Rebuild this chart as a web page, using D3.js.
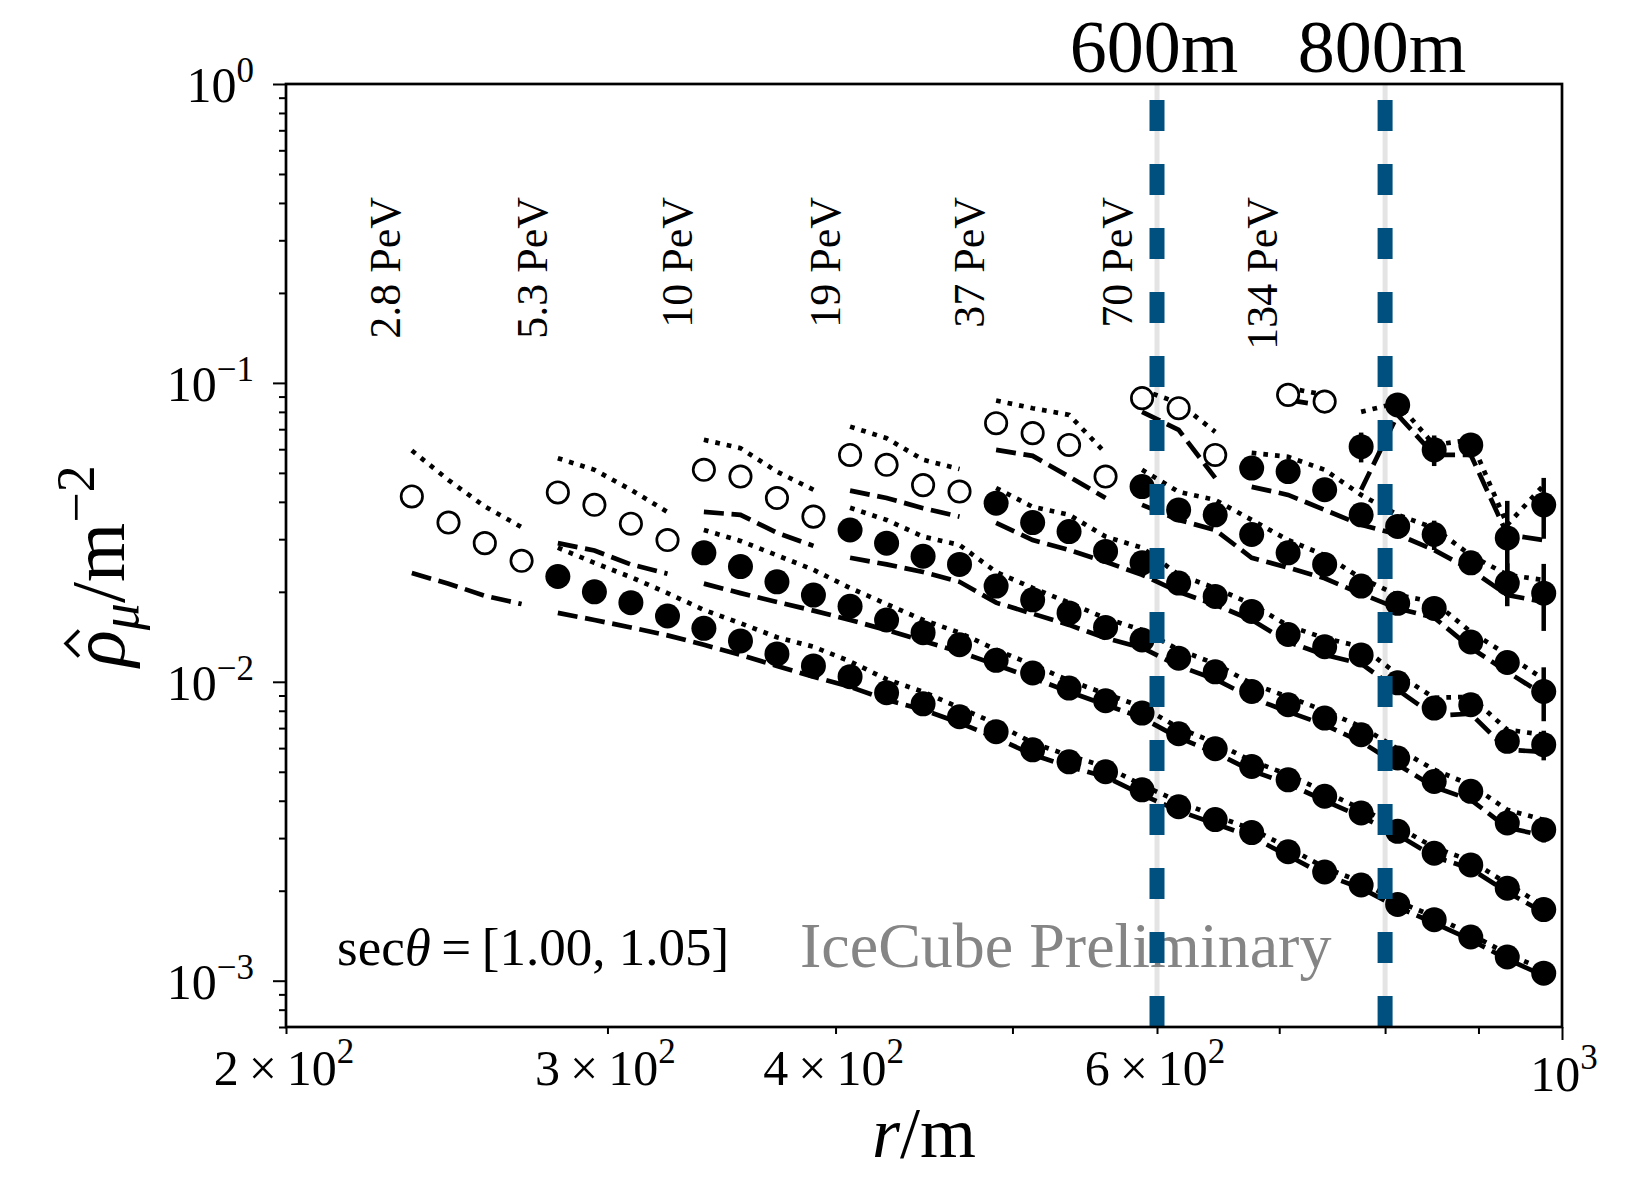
<!DOCTYPE html>
<meta charset="utf-8">
<style>
body { margin: 0; background: #fff; }
text { font-family: "Liberation Serif", "Times New Roman", serif; fill: #000; }
</style>
<body>
<script src="https://d3js.org/d3.v7.min.js"></script>
<script>
// radial bins (m), one per column of points
var radius = [234.4, 245.5, 257.0, 269.2, 281.8, 295.1, 309.0, 323.6, 338.8, 354.8, 371.5, 389.0,
  407.4, 426.6, 446.7, 467.7, 489.8, 512.9, 537.0, 562.3, 588.8, 616.6, 645.7, 676.1,
  707.9, 741.3, 776.2, 812.8, 851.1, 891.3, 933.3, 977.2];

var energies = ["2.8 PeV", "5.3 PeV", "10 PeV", "19 PeV", "37 PeV", "70 PeV", "134 PeV"];
var labelR = [227, 273, 328, 395, 474, 571, 686];
var firstBin = [0, 4, 8, 12, 16, 20, 24];

// open markers (and the two model curves over the same bins)
var openPts = [
  [0.0417, 0.0341, 0.0291, 0.0254],
  [0.0430, 0.0391, 0.0338, 0.0298],
  [0.0512, 0.0486, 0.0412, 0.0357],
  [0.0574, 0.0532, 0.0455, 0.0433],
  [0.0733, 0.0679, 0.0620, 0.0486],
  [0.0889, 0.0823, 0.0574],
  [0.0912, 0.0866]
];
var openDot = [
  [0.0594, 0.0473, 0.0386, 0.0329],
  [0.0560, 0.0512, 0.0439, 0.0370],
  [0.0645, 0.0605, 0.0505, 0.0439],
  [0.0714, 0.0653, 0.0553, 0.0515],
  [0.0873, 0.0823, 0.0782, 0.0582],
  [0.0947, 0.0857, 0.0686],
  [0.0962, 0.0912]
];
var openDash = [
  [0.0231, 0.0213, 0.0194, 0.0182],
  [0.0291, 0.0275, 0.0247, 0.0230],
  [0.0370, 0.0362, 0.0315, 0.0285],
  [0.0436, 0.0412, 0.0381, 0.0357],
  [0.0597, 0.0570, 0.0486, 0.0412],
  [0.0800, 0.0696, 0.0481],
  [0.0877, 0.0838]
];

// filled markers, continuing right after the open ones up to the last bin
var fillPts = [
  [0.0225, 0.0200, 0.0184, 0.0166, 0.0151, 0.0137, 0.0124, 0.0113, 0.0104, 0.00919, 0.00844, 0.00764, 0.00681, 0.00592,
   0.00540, 0.00500, 0.00435, 0.00382, 0.00346, 0.00313, 0.00270, 0.00231, 0.00209, 0.00180, 0.00160, 0.00140, 0.00120, 0.00106],
  [0.0270, 0.0243, 0.0216, 0.0195, 0.0179, 0.0161, 0.0146, 0.0133, 0.0118, 0.0107, 0.00953, 0.00864, 0.00786, 0.00670,
   0.00597, 0.00521, 0.00470, 0.00414, 0.00364, 0.00316, 0.00267, 0.00244, 0.00204, 0.00173],
  [0.0322, 0.0291, 0.0263, 0.0247, 0.0209, 0.0188, 0.0170, 0.0152, 0.0138, 0.0120, 0.0108, 0.00928, 0.00838, 0.00756,
   0.00665, 0.00556, 0.00464, 0.00430, 0.00337, 0.00320],
  [0.0396, 0.0341, 0.0318, 0.0273, 0.0250, 0.0214, 0.0193, 0.0172, 0.0144, 0.0131, 0.0123, 0.00992, 0.00817, 0.00838,
   0.00632, 0.00616],
  [0.0450, 0.0376, 0.0362, 0.0311, 0.0270, 0.0247, 0.0209, 0.0183, 0.0176, 0.0136, 0.0116, 0.00928],
  [0.0519, 0.0505, 0.0439, 0.0362, 0.0331, 0.0311, 0.0250, 0.0214, 0.0198],
  [0.0612, 0.0844, 0.0597, 0.0620, 0.0303, 0.0391]
];
var fillErr = [
  [0, 0, 0, 0, 0, 0, 0, 0, 0, 0, 0, 0, 0, 0, 0, 0, 0, 0, 0, 0, 0, 0, 0, 0, 0, 0, 0, 0],
  [0, 0, 0, 0, 0, 0, 0, 0, 0, 0, 0, 0, 0, 0, 0, 0, 0, 0, 0, 0, 0, 0, 0, 0],
  [0, 0, 0, 0, 0, 0, 0, 0, 0, 0, 0, 0, 0, 0, 0, 0, 0, 0, 0.0002, 0.0003],
  [0, 0, 0, 0, 0, 0, 0, 0, 0, 0, 0, 0, 0.0004, 0.0004, 0.0005, 0.0007],
  [0, 0, 0, 0, 0, 0, 0, 0, 0.0010, 0.0010, 0.0010, 0.0019],
  [0, 0, 0, 0.0020, 0.0015, 0.0035, 0.0020, 0.0035, 0.0050],
  [0.0070, 0.0030, 0.0070, 0.0030, 0.0100, 0.0090]
];
var fillDot = [
  [0.0281, 0.0250, 0.0224, 0.0198, 0.0174, 0.0157, 0.0141, 0.0131, 0.0117, 0.0102, 0.00926, 0.00819, 0.00724, 0.00625,
   0.00566, 0.00520, 0.00452, 0.00397, 0.00356, 0.00322, 0.00279, 0.00239, 0.00214, 0.00184, 0.00164, 0.00143, 0.00123, 0.00109],
  [0.0322, 0.0296, 0.0265, 0.0237, 0.0206, 0.0182, 0.0161, 0.0146, 0.0128, 0.0114, 0.0101, 0.00912, 0.00825, 0.00702,
   0.00625, 0.00544, 0.00489, 0.00429, 0.00376, 0.00327, 0.00279, 0.00252, 0.00211, 0.00178],
  [0.0382, 0.0348, 0.0306, 0.0287, 0.0233, 0.0206, 0.0184, 0.0163, 0.0149, 0.0128, 0.0115, 0.00985, 0.00891, 0.00800,
   0.00707, 0.00597, 0.00508, 0.00452, 0.00373, 0.00345],
  [0.0445, 0.0385, 0.0362, 0.0306, 0.0281, 0.0228, 0.0206, 0.0182, 0.0154, 0.0140, 0.0131, 0.0106, 0.00884, 0.00891,
   0.00691, 0.00665],
  [0.0512, 0.0432, 0.0406, 0.0348, 0.0298, 0.0265, 0.0222, 0.0195, 0.0185, 0.0147, 0.0123, 0.0102],
  [0.0583, 0.0566, 0.0512, 0.0422, 0.0362, 0.0327, 0.0265, 0.0228, 0.0219],
  [0.0800, 0.0857, 0.0620, 0.0645, 0.0335, 0.0455]
];
var fillDash = [
  [0.0170, 0.0161, 0.0152, 0.0143, 0.0133, 0.0123, 0.0113, 0.0104, 0.00962, 0.00871, 0.00806, 0.00729, 0.00650, 0.00570,
   0.00520, 0.00481, 0.00419, 0.00370, 0.00335, 0.00303, 0.00262, 0.00226, 0.00204, 0.00176, 0.00156, 0.00137, 0.00118, 0.00104],
  [0.0213, 0.0198, 0.0185, 0.0173, 0.0161, 0.0149, 0.0137, 0.0126, 0.0114, 0.0103, 0.00926, 0.00838, 0.00758, 0.00650,
   0.00579, 0.00504, 0.00456, 0.00400, 0.00354, 0.00308, 0.00260, 0.00237, 0.00198, 0.00169],
  [0.0260, 0.0247, 0.0233, 0.0216, 0.0184, 0.0169, 0.0155, 0.0140, 0.0130, 0.0113, 0.0102, 0.00884, 0.00794, 0.00718,
   0.00630, 0.00528, 0.00445, 0.00403, 0.00325, 0.00306],
  [0.0340, 0.0298, 0.0276, 0.0252, 0.0228, 0.0200, 0.0181, 0.0161, 0.0136, 0.0123, 0.0115, 0.00940, 0.00770, 0.00782,
   0.00592, 0.00583],
  [0.0391, 0.0348, 0.0322, 0.0260, 0.0241, 0.0222, 0.0197, 0.0176, 0.0164, 0.0130, 0.0108, 0.00905],
  [0.0449, 0.0422, 0.0376, 0.0335, 0.0311, 0.0276, 0.0237, 0.0195, 0.0185],
  [0.0439, 0.0782, 0.0574, 0.0574, 0.0311, 0.0298]
];

var depthLines = [600, 800];
var depthLabels = ["600m", "800m"];
var xLabelTicks = [200, 300, 400, 600];
var xLabelMant = ["2", "3", "4", "6"];
var xMajor = [1000];
var yMajor = [1, 0.1, 0.01, 0.001];
var yExp = ["0", "\u22121", "\u22122", "\u22123"];

var W = 1650, H = 1177;
var margin = {top: 84, right: 88, bottom: 150, left: 286};

var x = d3.scaleLog().domain([200, 1000]).range([margin.left, W - margin.right]);
var y = d3.scaleLog().domain([7e-4, 1]).range([H - margin.bottom, margin.top]);

var svg = d3.select("body").append("svg")
    .attr("width", W)
    .attr("height", H)
    .style("display", "block");

svg.append("rect").attr("width", W).attr("height", H).attr("fill", "#fff");

// light vertical guides behind everything
svg.selectAll(".guide")
    .data(depthLines)
  .enter().append("line")
    .attr("x1", function(d) { return x(d); })
    .attr("x2", function(d) { return x(d); })
    .attr("y1", y(7e-4))
    .attr("y2", y(1))
    .attr("stroke", "#e4e4e4")
    .attr("stroke-width", 5);

// annotations inside the axes
var sec = svg.append("text")
    .attr("x", 337)
    .attr("y", 965)
    .style("font-size", "53px");
sec.append("tspan").text("sec");
sec.append("tspan").style("font-style", "italic").text("\u03b8");
sec.append("tspan").text("\u2009=\u2009[1.00, 1.05]");

svg.append("text")
    .attr("x", 800)
    .attr("y", 967)
    .style("font-size", "64px")
    .style("fill", "#858585")
    .text("IceCube Preliminary");

function pts(vals, start) {
  return vals.map(function(v, i) { return {r: radius[start + i], v: v}; });
}

var line = d3.line()
    .x(function(d) { return x(d.r); })
    .y(function(d) { return y(d.v); });

var plot = svg.append("g");

energies.forEach(function(e, i) {
  var s0 = firstBin[i];
  var s1 = s0 + openPts[i].length;

  [[openDot[i], s0], [fillDot[i], s1]].forEach(function(p) {
    plot.append("path")
        .attr("d", line(pts(p[0], p[1])))
        .attr("fill", "none")
        .attr("stroke", "#000")
        .attr("stroke-width", 4.7)
        .attr("stroke-dasharray", "4.7 7");
  });
  [[openDash[i], s0], [fillDash[i], s1]].forEach(function(p) {
    plot.append("path")
        .attr("d", line(pts(p[0], p[1])))
        .attr("fill", "none")
        .attr("stroke", "#000")
        .attr("stroke-width", 4.7)
        .attr("stroke-dasharray", "20 7.7");
  });

  var filled = pts(fillPts[i], s1);
  filled.forEach(function(d, j) { d.e = fillErr[i][j]; });

  plot.selectAll(null)
      .data(filled.filter(function(d) { return d.e > 0; }))
    .enter().append("line")
      .attr("x1", function(d) { return x(d.r); })
      .attr("x2", function(d) { return x(d.r); })
      .attr("y1", function(d) { return y(d.v - d.e); })
      .attr("y2", function(d) { return y(d.v + d.e); })
      .attr("stroke", "#000")
      .attr("stroke-width", 4.5);

  plot.selectAll(null)
      .data(pts(openPts[i], s0))
    .enter().append("circle")
      .attr("cx", function(d) { return x(d.r); })
      .attr("cy", function(d) { return y(d.v); })
      .attr("r", 10.7)
      .attr("fill", "#fff")
      .attr("stroke", "#000")
      .attr("stroke-width", 2.7);

  plot.selectAll(null)
      .data(filled)
    .enter().append("circle")
      .attr("cx", function(d) { return x(d.r); })
      .attr("cy", function(d) { return y(d.v); })
      .attr("r", 12.5)
      .attr("fill", "#000");
});

// energy labels
svg.selectAll(".elab")
    .data(energies)
  .enter().append("text")
    .attr("transform", function(d, i) { return "translate(" + (x(labelR[i]) + 14) + ",197) rotate(-90)"; })
    .attr("text-anchor", "end")
    .style("font-size", "44px")
    .text(function(d) { return d; });

// depth markers
svg.selectAll(".depth")
    .data(depthLines)
  .enter().append("path")
    .attr("d", function(d) { return "M" + x(d) + "," + y(7e-4) + "V" + y(1); })
    .attr("stroke", "#00507f")
    .attr("stroke-width", 15)
    .attr("stroke-dasharray", "31 33");

svg.selectAll(".dlab")
    .data(depthLines)
  .enter().append("text")
    .attr("x", function(d) { return x(d) - 3; })
    .attr("y", 72)
    .attr("text-anchor", "middle")
    .style("font-size", "74px")
    .text(function(d, i) { return depthLabels[i]; });

// axes
var yMinor = y.ticks().filter(function(t) { return yMajor.indexOf(t) < 0; });
var xMinor = x.ticks().filter(function(t) { return xMajor.indexOf(t) < 0; });

function styleAxis(g) {
  g.select(".domain").remove();
  g.selectAll("line").attr("stroke", "#000").attr("stroke-width", 2);
}

svg.append("g")
    .attr("transform", "translate(" + margin.left + ",0)")
    .call(d3.axisLeft(y).tickValues(yMinor).tickSize(7).tickFormat(""))
    .call(styleAxis);
svg.append("g")
    .attr("transform", "translate(" + margin.left + ",0)")
    .call(d3.axisLeft(y).tickValues(yMajor).tickSize(13).tickFormat(""))
    .call(styleAxis);
svg.append("g")
    .attr("transform", "translate(0," + (H - margin.bottom) + ")")
    .call(d3.axisBottom(x).tickValues(xMinor).tickSize(7).tickFormat(""))
    .call(styleAxis);
svg.append("g")
    .attr("transform", "translate(0," + (H - margin.bottom) + ")")
    .call(d3.axisBottom(x).tickValues(xMajor).tickSize(13).tickFormat(""))
    .call(styleAxis);

svg.append("rect")
    .attr("x", margin.left)
    .attr("y", margin.top)
    .attr("width", W - margin.left - margin.right)
    .attr("height", H - margin.top - margin.bottom)
    .attr("fill", "none")
    .attr("stroke", "#000")
    .attr("stroke-width", 2.7);

// tick labels
yMajor.forEach(function(v, i) {
  var t = svg.append("text")
      .attr("x", 254)
      .attr("y", y(v) + 18)
      .attr("text-anchor", "end")
      .style("font-size", "50px");
  t.append("tspan").text("10");
  t.append("tspan").attr("dy", -20).style("font-size", "35px").text(yExp[i]);
});

xLabelTicks.forEach(function(v, i) {
  var t = svg.append("text")
      .attr("x", x(v) - 2)
      .attr("y", 1085)
      .attr("text-anchor", "middle")
      .style("font-size", "50px");
  t.append("tspan").text(xLabelMant[i] + "\u2009\u00d7\u200910");
  t.append("tspan").attr("dy", -22).style("font-size", "35px").text("2");
});
var t3 = svg.append("text")
    .attr("x", x(1000) + 2)
    .attr("y", 1091)
    .attr("text-anchor", "middle")
    .style("font-size", "50px");
t3.append("tspan").text("10");
t3.append("tspan").attr("dy", -22).style("font-size", "35px").text("3");

// axis titles
var xt = svg.append("text")
    .attr("x", (margin.left + W - margin.right) / 2)
    .attr("y", 1157)
    .attr("text-anchor", "middle")
    .style("font-size", "72px");
xt.append("tspan").style("font-style", "italic").text("r");
xt.append("tspan").text("/m");

var yg = svg.append("g").attr("transform", "translate(124,566) rotate(-90)");
var yt = yg.append("text")
    .attr("text-anchor", "middle")
    .style("font-size", "76px");
yt.append("tspan").style("font-style", "italic").text("\u03c1");
yt.append("tspan").attr("dy", 14).style("font-style", "italic").style("font-size", "54px").text("\u03bc");
yt.append("tspan").attr("dy", -14).text("/m");
yt.append("tspan").attr("dy", -30).style("font-size", "54px").text("\u22122");

// circumflex over rho
var rho = yt.node().getExtentOfChar(0);
var hc = rho.x + rho.width / 2 + 5;
yg.append("path")
    .attr("d", "M" + (hc - 13) + ",-45L" + hc + ",-58L" + (hc + 13) + ",-45")
    .attr("fill", "none")
    .attr("stroke", "#000")
    .attr("stroke-width", 3.5);
</script>
</body>
